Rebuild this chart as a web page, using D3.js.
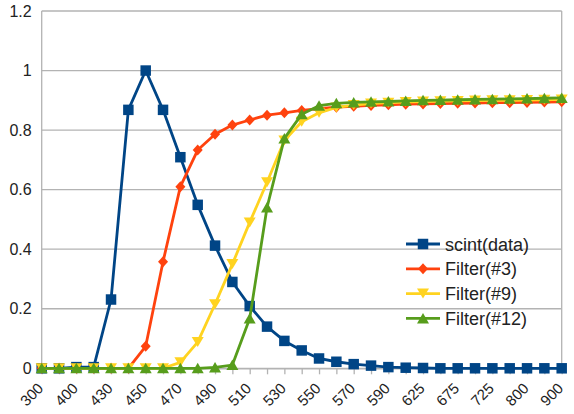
<!DOCTYPE html>
<html><head><meta charset="utf-8">
<script src="https://cdn.jsdelivr.net/npm/d3@7"></script>
<style>body{margin:0;background:#fff}svg{display:block}text{font-family:"Liberation Sans",Arial,sans-serif}</style>
</head><body><svg id="c" width="574" height="414"></svg>
<script>
const categories = [300,350,400,420,430,440,450,460,470,480,490,500,510,520,530,540,550,560,570,580,590,600,625,650,675,700,725,750,800,850,900];
const scint   = [0,0,0.004,0.004,0.231,0.868,1.0,0.868,0.709,0.549,0.412,0.29,0.209,0.14,0.092,0.06,0.033,0.022,0.014,0.009,0.004,0.002,0.001,0,0,0,0,0,0,0,0];
const filter3 = [0,0,0,0,0,0,0.074,0.358,0.61,0.733,0.786,0.817,0.834,0.85,0.858,0.866,0.872,0.877,0.88,0.883,0.885,0.887,0.888,0.889,0.89,0.891,0.892,0.892,0.893,0.894,0.895];
const filter9 = [0,0,0,0,0,0,0,0,0.02,0.088,0.215,0.35,0.49,0.625,0.765,0.828,0.858,0.876,0.884,0.889,0.892,0.894,0.896,0.897,0.898,0.899,0.9,0.9,0.901,0.902,0.903];
const filter12= [0,0,0,0,0,0,0,0,0,0,0.003,0.011,0.167,0.54,0.772,0.853,0.882,0.89,0.893,0.895,0.896,0.898,0.9,0.901,0.902,0.903,0.904,0.905,0.906,0.907,0.908];
const yTicks = [0,0.2,0.4,0.6,0.8,1,1.2];
const tickLabels = ["300","400","430","450","470","490","510","530","550","570","590","625","675","725","800","900"];
const seriesNames = ["scint(data)","Filter(#3)","Filter(#9)","Filter(#12)"];
const seriesColors = ["#004586","#ff420e","#ffd320","#579d1c"];
const seriesShapes = ["square","diamond","down","up"];

const svg = d3.select("#c");
const L=41.7, R=561.7, T=11, B=368.3;
const x = d3.scalePoint().domain(categories.map(String)).range([L,R]);
const y = d3.scaleLinear().domain([0,1.2]).range([B,T]);
const grid="#b3b3b3";

// gridlines
svg.append("g").selectAll("line").data(yTicks).join("line")
  .attr("x1",L).attr("x2",R).attr("y1",d=>y(d)).attr("y2",d=>y(d))
  .attr("stroke",grid).attr("stroke-width",1.3);
svg.append("line").attr("x1",L).attr("x2",L).attr("y1",T).attr("y2",B).attr("stroke",grid).attr("stroke-width",1.3);
svg.append("line").attr("x1",R).attr("x2",R).attr("y1",T).attr("y2",B).attr("stroke",grid).attr("stroke-width",1.3);

// y axis labels
const yAxis = d3.axisLeft(y).tickValues(yTicks).tickSize(0).tickPadding(10).tickFormat(d3.format("~g"));
const gy = svg.append("g").attr("transform",`translate(${L},0)`).call(yAxis);
gy.select(".domain").remove();
gy.selectAll("text").attr("font-size",16).attr("fill","#222").attr("font-family","Liberation Sans, Arial, sans-serif");

// x axis
const xAxis = d3.axisBottom(x).tickSizeInner(6).tickSizeOuter(0).tickFormat(d=>tickLabels.includes(d)?d:"");
const gx = svg.append("g").attr("transform",`translate(0,${B})`).call(xAxis);
gx.select(".domain").attr("stroke",grid).attr("stroke-width",1.3);
gx.selectAll(".tick line").attr("stroke",grid).attr("stroke-width",1.3);
gx.selectAll(".tick text").attr("font-size",15).attr("fill","#222").attr("font-family","Liberation Sans, Arial, sans-serif")
  .attr("text-anchor","end").attr("dy",null).attr("y",0)
  .attr("transform","translate(2,21) rotate(-45)");

function marker(g, shape, color, cx, cy){
  let p;
  if(shape==="square") p=d3.symbol(d3.symbolSquare,110)();
  else if(shape==="diamond") p="M0,-5.5L5,0L0,5.5L-5,0Z";
  else if(shape==="down") p="M-6,-5L6,-5L0,5Z";
  else p="M-6,5L6,5L0,-5.5Z";
  g.append("path").attr("d",p).attr("fill",color).attr("transform",`translate(${cx},${cy})`);
}

const allSeries=[scint,filter3,filter9,filter12];
const line = d3.line().x((d,i)=>x(String(categories[i]))).y(d=>y(d));
allSeries.forEach((vals,k)=>{
  const g=svg.append("g");
  g.append("path").attr("d",line(vals)).attr("fill","none").attr("stroke",seriesColors[k]).attr("stroke-width",2.8).attr("stroke-linejoin","round");
  vals.forEach((v,i)=>marker(g,seriesShapes[k],seriesColors[k],x(String(categories[i])),y(v)));
});

// legend
const lg = svg.append("g");
seriesNames.forEach((n,k)=>{
  const cy = 244 + k*24.8;
  lg.append("line").attr("x1",406).attr("x2",440).attr("y1",cy).attr("y2",cy).attr("stroke",seriesColors[k]).attr("stroke-width",2.8);
  marker(lg,seriesShapes[k],seriesColors[k],423,cy);
  lg.append("text").attr("x",445).attr("y",cy+6.5).attr("font-size",18).attr("fill","#222").text(n);
});
</script></body></html>
